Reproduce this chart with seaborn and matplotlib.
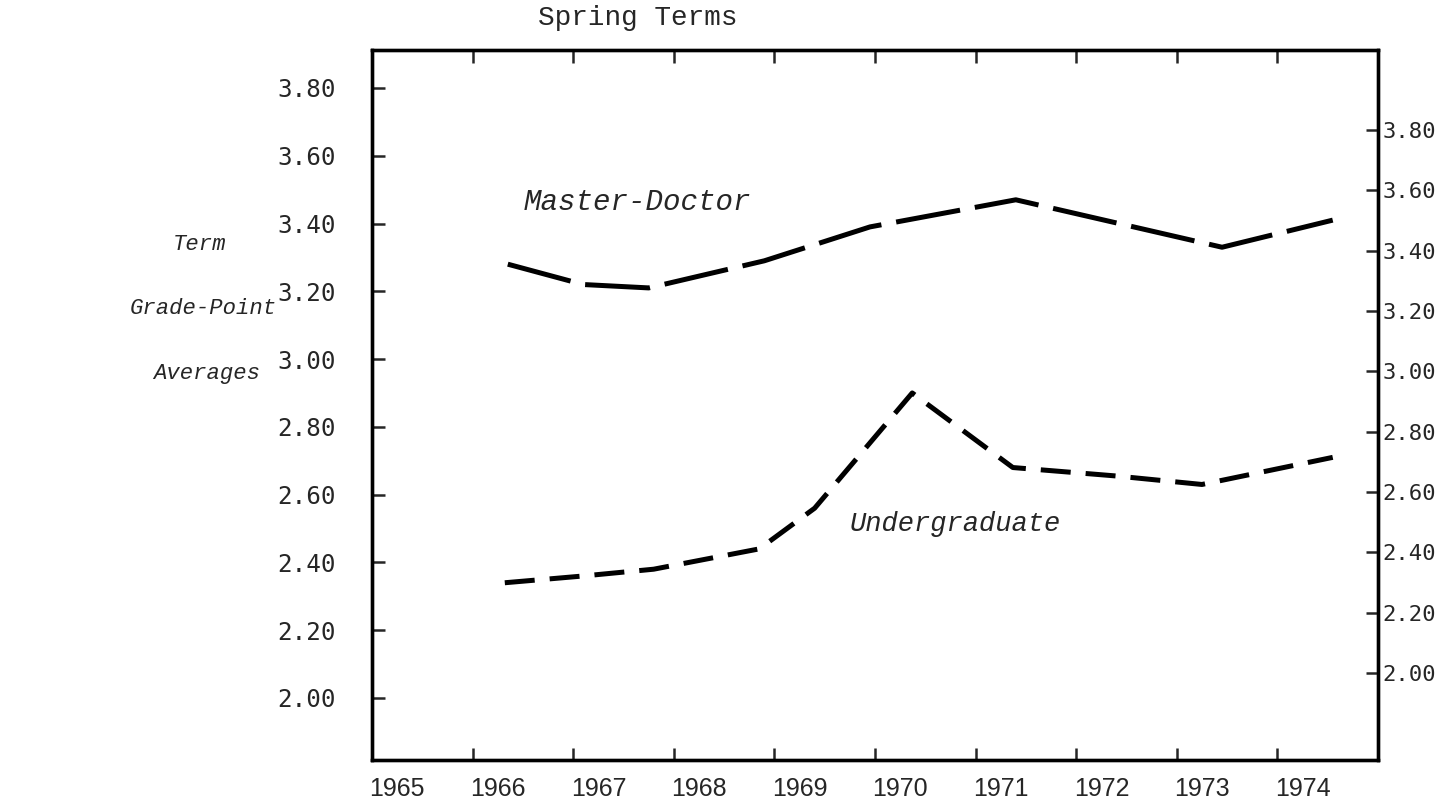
import numpy as np
import matplotlib
matplotlib.use("Agg")
import matplotlib.pyplot as plt
import matplotlib.transforms as mtransforms
import seaborn as sns

# values (x = position along the year axis)
md_x = [1965.85, 1966.6, 1967.25, 1968.4, 1969.45, 1970.9, 1972.95, 1974.05]
md_y = [3.28, 3.22, 3.21, 3.29, 3.39, 3.47, 3.33, 3.41]

ug_x = [1965.82, 1966.6, 1967.3, 1968.35, 1968.9, 1969.87, 1970.87, 1971.9, 1972.75, 1974.05]
ug_y = [2.34, 2.36, 2.38, 2.44, 2.56, 2.90, 2.68, 2.655, 2.63, 2.71]

years = [1965, 1966, 1967, 1968, 1969, 1970, 1971, 1972, 1973, 1974]
gpa_ticks = [2.00, 2.20, 2.40, 2.60, 2.80, 3.00, 3.20, 3.40, 3.60, 3.80]

sns.set_style("white")

mono = ["DejaVu Sans Mono"]
typew = ["Liberation Mono", "DejaVu Sans Mono"]
narrow = ["Liberation Sans Narrow", "Liberation Sans", "DejaVu Sans"]

fig = plt.figure(figsize=(14.39, 8.08), dpi=100)
ax = fig.add_axes([372 / 1439, 1 - 760 / 808, 1006 / 1439, 710 / 808])

sns.lineplot(x=md_x, y=md_y, ax=ax, color="black", lw=3.6,
             linestyle=(0, (13, 3)), sort=False)
sns.lineplot(x=ug_x, y=ug_y, ax=ax, color="black", lw=3.6,
             linestyle=(0, (6, 3)), sort=False)

ax.set_xlim(1964.5, 1974.5)
ax.set_ylim(1.817, 3.912)

# year boundaries get tick marks, years themselves get the labels
bounds = [y + 0.5 for y in years[:-1]]
ax.set_xticks(bounds)
ax.set_xticklabels([])
ax.set_xticks(years, minor=True)
ax.set_xticklabels([str(y) for y in years], minor=True, fontfamily=narrow, fontsize=18)
ax.tick_params(axis="x", which="major", direction="in", length=9, width=1.8,
               top=True, bottom=True)
ax.tick_params(axis="x", which="minor", length=0, pad=12)
shift = mtransforms.ScaledTranslation(-0.25, 0, fig.dpi_scale_trans)
for lab in ax.get_xticklabels(minor=True):
    lab.set_transform(lab.get_transform() + shift)

ax.set_yticks(gpa_ticks)
ax.set_yticklabels([f"{v:.2f}" for v in gpa_ticks], fontfamily=mono, fontsize=17.5)
ax.tick_params(axis="y", direction="in", length=9, width=1.8, pad=26)
ax.set_xlabel("")
ax.set_ylabel("")

# right-hand scale is drawn with a tighter spacing in the original
ax2 = ax.twinx()
ax2.set_ylim(1.712, 4.065)
ax2.set_yticks(gpa_ticks)
ax2.set_yticklabels([f"{v:.2f}" for v in gpa_ticks], fontfamily=mono, fontsize=16)
ax2.tick_params(axis="y", direction="in", length=9, width=1.8, pad=3)

for a in (ax, ax2):
    for s in a.spines.values():
        s.set_linewidth(2.4)
        s.set_color("black")

ax.text(0.264, 1.045, "Spring Terms", transform=ax.transAxes, ha="center",
        va="center", fontfamily=typew, fontsize=20)
ax.text(1967.14, 3.464, "Master-Doctor", ha="center", va="center",
        fontfamily=typew, fontstyle="italic", fontsize=21)
ax.text(1970.3, 2.514, "Undergraduate", ha="center", va="center",
        fontfamily=typew, fontstyle="italic", fontsize=19.5)

for txt, px, py in [("Term", 200, 245), ("Grade-Point", 203, 308), ("Averages", 207, 373)]:
    fig.text(px / 1439, 1 - py / 808, txt, ha="center", va="center",
             fontfamily=typew, fontstyle="italic", fontsize=16)

fig.savefig("out.png", dpi=100, facecolor="white")
